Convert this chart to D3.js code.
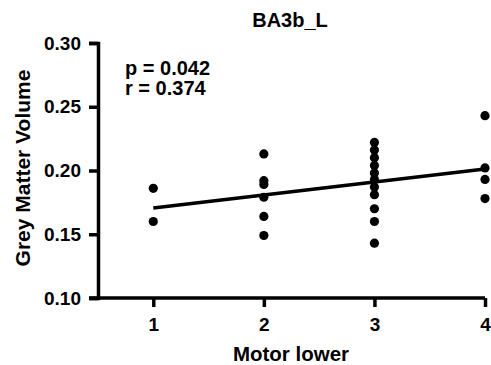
<html>
<script src='https://d3js.org/d3.v7.min.js'></script>
<style>
  body { margin: 0; background: #fff; }
  text { font-family: 'Liberation Sans', Arial, sans-serif; font-weight: bold; fill: #000; }
  .axis path, .axis line { stroke: #000; stroke-width: 3.5; }
  circle { fill: #000; }
</style>
<body onload='init()'>
<svg width=491 height=365></svg>
<script>
// Motor lower score vs grey matter volume (BA3b_L)
const motorScores = [1, 1,
  2, 2, 2, 2, 2, 2,
  3, 3, 3, 3, 3, 3, 3, 3, 3, 3, 3,
  4, 4, 4, 4];
const greyVolume = [0.186, 0.160,
  0.213, 0.192, 0.189, 0.179, 0.164, 0.149,
  0.222, 0.216, 0.210, 0.204, 0.198, 0.193, 0.187, 0.181, 0.170, 0.160, 0.143,
  0.243, 0.202, 0.193, 0.178];
const xTicks = [1, 2, 3, 4];
const yTicks = [0.10, 0.15, 0.20, 0.25, 0.30];
const stats = ['p = 0.042', 'r = 0.374'];

function init() {
    const svg = d3.select('svg');

    const x = d3.scaleLinear().domain([0.5, 4]).range([98, 485]);
    const y = d3.scaleLinear().domain([0.10, 0.30]).range([298, 43]);

    svg.append('g')
      .attr('class', 'axis')
      .attr('transform', 'translate(98,0)')
      .call(d3.axisLeft(y).tickValues(yTicks).tickSize(9).tickPadding(8).tickFormat(d3.format('.2f')))
      .call(g => g.selectAll('text').style('font-size', '19px'));

    svg.append('g')
      .attr('class', 'axis')
      .attr('transform', 'translate(0,298)')
      .call(d3.axisBottom(x).tickValues(xTicks).tickSize(9).tickPadding(11).tickFormat(d3.format('d')))
      .call(g => g.select('.domain').attr('d', 'M89,0H485'))
      .call(g => g.selectAll('text').style('font-size', '19px'));

    // least squares fit
    const n = motorScores.length;
    const mx = d3.mean(motorScores), my = d3.mean(greyVolume);
    let sxy = 0, sxx = 0;
    for (let i = 0; i < n; i++) {
        sxy += (motorScores[i] - mx) * (greyVolume[i] - my);
        sxx += (motorScores[i] - mx) ** 2;
    }
    const slope = sxy / sxx, icpt = my - slope * mx;
    const ends = d3.extent(motorScores);

    svg.append('line')
      .attr('x1', x(ends[0])).attr('y1', y(icpt + slope * ends[0]))
      .attr('x2', x(ends[1])).attr('y2', y(icpt + slope * ends[1]))
      .attr('stroke', '#000').attr('stroke-width', 3.5);

    svg.append('g').selectAll('circle')
      .data(greyVolume)
      .enter()
      .append('circle')
      .attr('cx', (d, i) => x(motorScores[i]))
      .attr('cy', d => y(d))
      .attr('r', 4.6);

    svg.append('text').attr('x', 290).attr('y', 27).attr('text-anchor', 'middle')
      .style('font-size', '20px').text('BA3b_L');

    svg.append('text').attr('x', 291).attr('y', 361).attr('text-anchor', 'middle')
      .style('font-size', '20.5px').text('Motor lower');

    svg.append('text').attr('transform', 'translate(30,168) rotate(-90)').attr('text-anchor', 'middle')
      .style('font-size', '21px').text('Grey Matter Volume');

    svg.selectAll('.stat').data(stats).enter()
      .append('text').attr('class', 'stat')
      .attr('x', 125).attr('y', (d, i) => 75 + i * 20)
      .style('font-size', '20px').text(d => d);
}
</script>
</body>
</html>
